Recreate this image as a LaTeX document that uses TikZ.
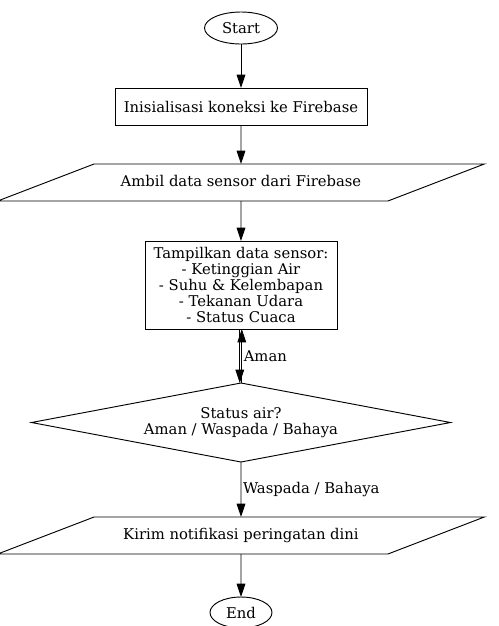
\documentclass[tikz,border=0pt]{standalone}
\usepackage{fontspec}
\setmainfont{DejaVu Serif}
\usetikzlibrary{positioning,shapes.geometric,arrows.meta}

\begin{document}
\begin{tikzpicture}[x=0.75pt,y=-0.75pt,
    font=\fontsize{11.1}{11.9}\selectfont,
    every node/.style={inner sep=0pt, outer sep=0pt},
    base/.style={draw, line width=0.7pt, align=center},
    terminal/.style={base, ellipse},
    process/.style={base, rectangle},
    io/.style={base, trapezium, trapezium left angle=21, trapezium right angle=159,
        trapezium stretches body, text height=8pt, text depth=2.5pt, inner ysep=8.625pt,
        minimum width=365pt},
    decision/.style={base, diamond, shape aspect=5.3, minimum width=314.25pt, minimum height=59.25pt},
    flow/.style={-{Triangle[length=10pt,width=6.5pt]}, line width=0.7pt}]
    \useasboundingbox (0,0) rectangle (499,626);

    \node[terminal, minimum width=54.75pt, minimum height=24pt] (start) at (241,28) {Start};
    \node[process, minimum width=189pt, minimum height=27.75pt, below=33pt of start] (init) {Inisialisasi koneksi ke Firebase};
    \node[io, below=29.25pt of init] (read) {Ambil data sensor dari Firebase};
    \node[process, minimum width=144pt, minimum height=66pt, below=30pt of read] (show)
        {Tampilkan data sensor:\\- Ketinggian Air\\- Suhu \& Kelembapan\\- Tekanan Udara\\- Status Cuaca};
    \node[decision, below=40.5pt of show] (status) {Status air?\\Aman / Waspada / Bahaya};
    \node[io, below=41.25pt of status] (notify) {Kirim notifikasi peringatan dini};
    \node[terminal, minimum width=46.5pt, minimum height=23.25pt, below=32.25pt of notify] (end) {End};

    \draw[flow] (start) -- (init);
    \draw[flow] (init) -- (read);
    \draw[flow] (read) -- (show);
    \draw[flow] ([xshift=-0.9pt]show.south) -- ([xshift=-0.9pt]status.north);
    \draw[flow] ([xshift=0.6pt]status.north) -- node[right=1.5pt]{Aman} ([xshift=0.6pt]show.south);
    \draw[flow] (status) -- node[right=1.5pt]{Waspada / Bahaya} (notify);
    \draw[flow] (notify) -- (end);
\end{tikzpicture}
\end{document}
